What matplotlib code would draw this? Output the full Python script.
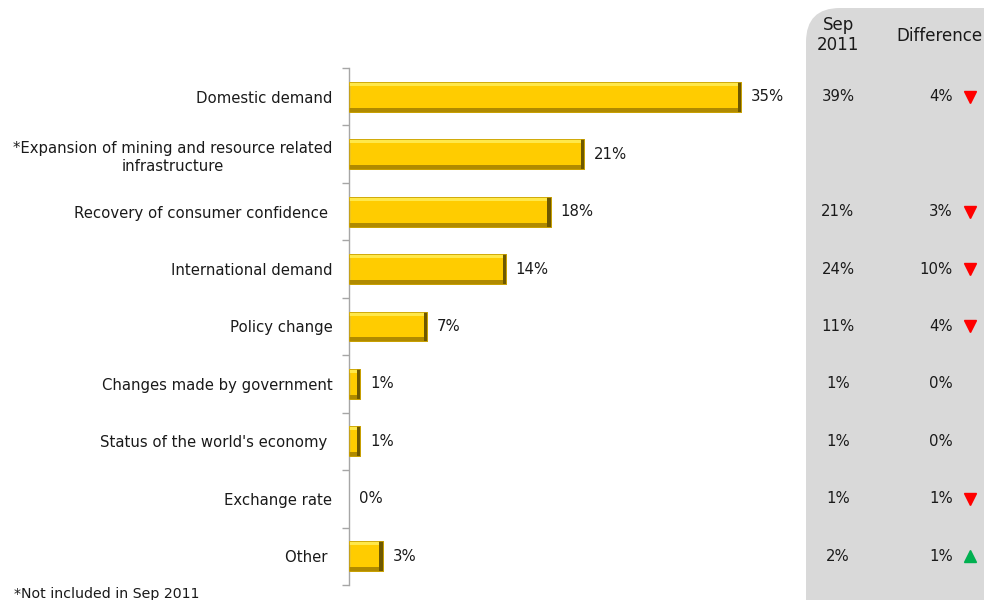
import matplotlib
matplotlib.use("Agg")
import matplotlib.pyplot as plt
from matplotlib.patches import FancyBboxPatch
from matplotlib.transforms import blended_transform_factory

plt.rcParams['font.family'] = ['DejaVu Sans']

categories = [
    "Domestic demand",
    "*Expansion of mining and resource related\ninfrastructure",
    "Recovery of consumer confidence ",
    "International demand",
    "Policy change",
    "Changes made by government",
    "Status of the world's economy ",
    "Exchange rate",
    "Other ",
]
current = [35, 21, 18, 14, 7, 1, 1, 0, 3]
sep_2011 = [39, None, 21, 24, 11, 1, 1, 1, 2]
difference = [4, None, 3, 10, 4, 0, 0, 1, 1]
direction = ["down", None, "down", "down", "down", None, None, "down", "up"]

W, H, DPI = 9.84, 6.0, 100
fig = plt.figure(figsize=(W, H), dpi=DPI)
fig.patch.set_facecolor("white")

FS = 10.7
TXT = "#1a1a1a"

# grey side panel with rounded corners (in inches)
panel = FancyBboxPatch((8.06, -0.4), 2.4, 6.32,
                       boxstyle="round,pad=0,rounding_size=0.34",
                       transform=fig.dpi_scale_trans,
                       facecolor="#d9d9d9", edgecolor="none", zorder=0)
fig.add_artist(panel)

ax = fig.add_axes([349 / 984, 0.025, 448 / 984, 0.8617])
ax.set_facecolor("none")
n = len(categories)
ys = list(range(n))
ax.set_xlim(0, 40)
ax.set_ylim(n - 0.5, -0.5)

bh = 0.52
edge_x = 0.28   # dark right end, in % units
strip = 0.07

gold = "#FFCC00"
for y, v in zip(ys, current):
    if v <= 0:
        continue
    ax.barh(y, v, height=bh, color=gold, edgecolor="#B89300", linewidth=0.6, zorder=2)
    # light top bevel
    ax.barh(y - bh / 2 + strip / 2, v, height=strip, color="#FFE84A",
            linewidth=0, zorder=3)
    # dark bottom bevel
    ax.barh(y + bh / 2 - strip / 2, v, height=strip, color="#B08A00",
            linewidth=0, zorder=3)
    # dark right end
    ax.barh(y, min(edge_x, v * 0.3), left=v - min(edge_x, v * 0.3), height=bh,
            color="#6E5800", linewidth=0, zorder=4)
    ax.barh(y, v, height=bh, color="none", edgecolor="#C9A000", linewidth=0.6, zorder=5)

for y, v in zip(ys, current):
    ax.annotate(f"{v}%", xy=(v, y), xytext=(7, 0), textcoords="offset points",
                ha="left", va="center", fontsize=FS, color=TXT)

# axis styling
for s in ["top", "right", "bottom"]:
    ax.spines[s].set_visible(False)
ax.spines["left"].set_color("#a6a6a6")
ax.spines["left"].set_linewidth(1.0)
ax.set_xticks([])
ax.set_yticks(ys)
ax.set_yticklabels(categories, fontsize=FS, color=TXT, ha="right",
                   multialignment="center", linespacing=1.3)
ax.tick_params(axis="y", which="major", length=0, pad=12)
ax.set_yticks([i - 0.5 for i in range(n + 1)], minor=True)
ax.tick_params(axis="y", which="minor", length=5, color="#a6a6a6", width=1.0)

# side table
tr = blended_transform_factory(fig.transFigure, ax.transData)
fig.text(838 / 984, 1 - 35 / 600, "Sep\n2011", ha="center", va="center",
         fontsize=12, color=TXT, linespacing=1.15)
fig.text(896 / 984, 1 - 36 / 600, "Difference", ha="left", va="center",
         fontsize=12, color=TXT)

for y, s, d, dr in zip(ys, sep_2011, difference, direction):
    if s is not None:
        ax.text(838 / 984, y, f"{s}%", transform=tr, ha="center", va="center",
                fontsize=FS, color=TXT, clip_on=False)
    if d is not None:
        ax.text(953 / 984, y, f"{d}%", transform=tr, ha="right", va="center",
                fontsize=FS, color=TXT, clip_on=False)
    if dr == "down":
        ax.plot([970 / 984], [y], marker="v", markersize=9, color="#FF0000",
                transform=tr, clip_on=False, linestyle="none")
    elif dr == "up":
        ax.plot([970 / 984], [y], marker="^", markersize=9, color="#00B050",
                transform=tr, clip_on=False, linestyle="none")

fig.text(14 / 984, 1 - 594 / 600, "*Not included in Sep 2011", ha="left",
         va="center", fontsize=10.2, color=TXT)

fig.savefig("out.png", dpi=DPI)
